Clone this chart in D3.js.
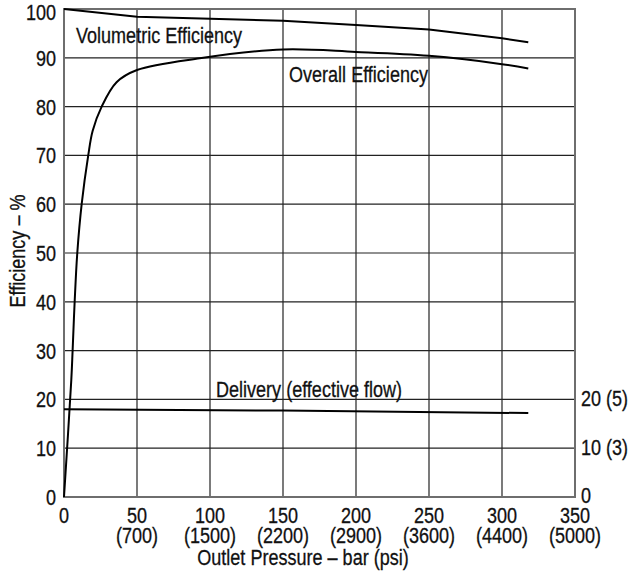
<!DOCTYPE html>
<html>
<head>
<meta charset="utf-8">
<script src="https://cdn.jsdelivr.net/npm/d3@7"></script>
<style>
  body { margin: 0; background: #fff; }
  svg text { font-family: "Liberation Sans", Arial, sans-serif; font-size: 22px; fill: #111; stroke: #111; stroke-width: 0.3px; }
</style>
</head>
<body>
<svg id="chart" width="628" height="575"></svg>
<script>
// values (pressure in bar, efficiency in %)
var xTicks = [0, 50, 100, 150, 200, 250, 300, 350];
var psiLabels = ["", "(700)", "(1500)", "(2200)", "(2900)", "(3600)", "(4400)", "(5000)"];
var yTicks = [0, 10, 20, 30, 40, 50, 60, 70, 80, 90, 100];
var rightTicks = [0, 10, 20];
var rightLabels = ["0", "10 (3)", "20 (5)"];

var volPressure = [0, 50, 150, 200, 250, 300, 318];
var volEff = [100, 98.4, 97.6, 96.7, 95.8, 94.0, 93.2];

var overallPressure = [0, 5, 5.9, 7.3, 9.1, 12.1, 16.6, 19.6, 25.8, 36, 50, 93, 150, 200, 250, 300, 318];
var overallEff = [0, 24, 30, 40, 50, 60, 70, 75, 80, 85, 87.5, 89.9, 91.7, 91.2, 90.4, 88.7, 87.8];

var deliveryPressure = [0, 150, 318];
var deliveryFlow = [18.0, 17.7, 17.2];

var svg = d3.select("#chart");
var pLeft = 64, pRight = 575, pTop = 9, pBottom = 497;
var squeeze = 0.82; //condensed look, no narrow font installed

var x = d3.scaleLinear().domain([0, 350]).range([pLeft, pRight]);
var y = d3.scaleLinear().domain([0, 100]).range([pBottom, pTop]);

// put a text at (tx,ty) squeezed horizontally
function label(g, tx, ty, str, anchor) {
  return g.append("text")
    .attr("transform", "translate(" + tx + "," + ty + ") scale(" + squeeze + ",1)")
    .attr("text-anchor", anchor || "start")
    .text(str);
}

//grid lines first so the curves sit on top
var grid = svg.append("g");
grid.selectAll("line.v").data(xTicks.slice(1, -1)).enter().append("line")
  .attr("x1", d => x(d)).attr("x2", d => x(d))
  .attr("y1", pTop).attr("y2", pBottom)
  .attr("stroke", "#222").attr("stroke-width", 1.2);
grid.selectAll("line.h").data(yTicks.slice(1, -1)).enter().append("line")
  .attr("x1", pLeft).attr("x2", pRight)
  .attr("y1", d => y(d)).attr("y2", d => y(d))
  .attr("stroke", "#222").attr("stroke-width", 1.2);

svg.append("rect")
  .attr("x", pLeft).attr("y", pTop)
  .attr("width", pRight - pLeft).attr("height", pBottom - pTop)
  .attr("fill", "none").attr("stroke", "#6e6e6e").attr("stroke-width", 2);

// left ticks
var g = svg.append("g");
yTicks.forEach(d => label(g, pLeft - 8, Math.max(y(d) + 8, 20), d, "end"));

// right ticks (delivery l/min (gpm))
rightTicks.forEach((d, i) => label(g, pRight + 6, y(d) + (d == 0 ? 6 : 7), rightLabels[i]));

// bottom ticks, two lines each
xTicks.forEach((d, i) => {
  label(g, x(d), 523, d, "middle");
  label(g, x(d), 543, psiLabels[i], "middle");
});

label(g, 303, 565, "Outlet Pressure – bar (psi)", "middle");

g.append("text")
  .attr("transform", "translate(25,251) rotate(-90) scale(" + squeeze + ",1)")
  .attr("text-anchor", "middle")
  .text("Efficiency – %");

// curves
function curve(xs, ys, c) {
  return d3.line().x((d, i) => x(xs[i])).y(d => y(d)).curve(c)(ys);
}
var curves = [
  [volPressure, volEff, d3.curveLinear],
  [overallPressure, overallEff, d3.curveCatmullRom.alpha(0.5)],
  [deliveryPressure, deliveryFlow, d3.curveLinear]
];
svg.append("g").selectAll("path").data(curves).enter().append("path")
  .attr("d", d => curve(d[0], d[1], d[2]))
  .attr("fill", "none").attr("stroke", "#000").attr("stroke-width", 2);

// curve labels
label(g, 76, 43, "Volumetric Efficiency");
label(g, 289, 82, "Overall Efficiency");
label(g, 216, 397, "Delivery (effective flow)");
</script>
</body>
</html>
